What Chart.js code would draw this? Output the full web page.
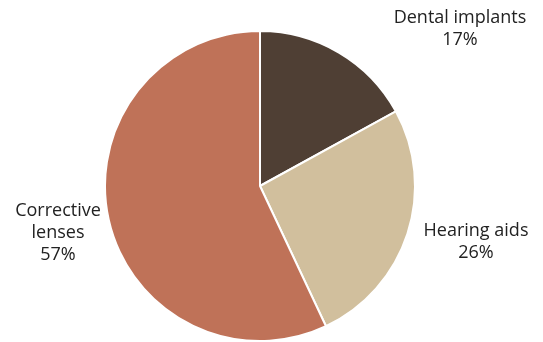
<!DOCTYPE html>
<html>
<head>
<meta charset="utf-8">
<script src="https://cdn.jsdelivr.net/npm/chart.js@4.4.1/dist/chart.umd.min.js"></script>
<style>
  html, body { margin: 0; padding: 0; background: #fff; }
  #wrap { width: 543px; height: 342px; position: relative; }
</style>
</head>
<body>
<div id="wrap"><canvas id="pie_gastos"></canvas></div>
<script>
var categorias = ["Dental implants", "Hearing aids", "Corrective lenses"];
var porcentajes = [17, 26, 57];
var colores = ["#4f3f34", "#d1bf9d", "#bf7258"];

// label blocks: centre x, first line y, wrapped text
var posEtiquetas = [
  { x: 460, y: 18, texto: ["Dental implants"] },
  { x: 476, y: 231, texto: ["Hearing aids"] },
  { x: 58, y: 211, texto: ["Corrective", "lenses"] }
];

var etiquetasPlugin = {
  id: "etiquetas",
  afterDraw: function (chart) {
    var ctx = chart.ctx;
    ctx.save();
    ctx.font = "18px 'Open Sans', 'Noto Sans', sans-serif";
    ctx.fillStyle = "#222";
    ctx.textAlign = "center";
    ctx.textBaseline = "middle";
    for (var i = 0; i < categorias.length; i++) {
      var p = posEtiquetas[i];
      var lineas = p.texto.concat([porcentajes[i] + "%"]);
      for (var j = 0; j < lineas.length; j++) {
        ctx.fillText(lineas[j], p.x, p.y + j * 22);
      }
    }
    ctx.restore();
  }
};

var ctx = document.getElementById("pie_gastos").getContext("2d");
var myChart = new Chart(ctx, {
  type: "pie",
  data: {
    labels: categorias,
    datasets: [
      {
        data: porcentajes,
        backgroundColor: colores,
        borderColor: "#ffffff",
        borderWidth: 2,
      },
    ],
  },
  options: {
    responsive: true,
    maintainAspectRatio: false,
    animation: false,
    layout: { padding: { left: 104, right: 127, top: 30, bottom: 0 } },
    plugins: {
      legend: { display: false },
      tooltip: { enabled: false },
    },
  },
  plugins: [etiquetasPlugin],
});
</script>
</body>
</html>
